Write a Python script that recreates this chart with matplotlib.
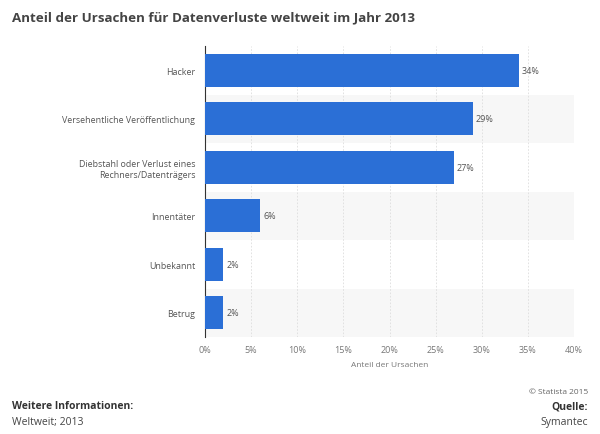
import matplotlib.pyplot as plt
from matplotlib.ticker import FuncFormatter

categories = ["Hacker", "Versehentliche Veröffentlichung",
              "Diebstahl oder Verlust eines\nRechners/Datenträgers",
              "Innentäter", "Unbekannt", "Betrug"]
values = [34, 29, 27, 6, 2, 2]
xticks = [0, 5, 10, 15, 20, 25, 30, 35, 40]

plt.rcParams['font.family'] = ['Open Sans', 'DejaVu Sans']

fig = plt.figure(figsize=(6, 4.35), dpi=100)
ax = fig.add_axes([205 / 600, 1 - 338 / 435, 369 / 600, 291 / 435])

n = len(categories)
ypos = list(range(n))

# alternating row bands
for i in ypos:
    if i % 2 == 1:
        ax.axhspan(i - 0.5, i + 0.5, color="#f7f7f7", zorder=0, lw=0)

ax.barh(ypos, values, height=0.68, color="#2b6fd6", zorder=3)
for y, v in zip(ypos, values):
    ax.text(v + 0.3, y, f"{v}%", va="center", ha="left", fontsize=6.5,
            color="#555555", zorder=4)

ax.set_ylim(n - 0.5, -0.5)
ax.set_xlim(0, 40)
ax.set_yticks(ypos)
ax.set_yticklabels(categories, fontsize=6.4, color="#555555", linespacing=1.3)
ax.set_xticks(xticks)
ax.xaxis.set_major_formatter(FuncFormatter(lambda x, _: f"{x:.0f}%"))
ax.tick_params(axis="x", labelsize=6.5, labelcolor="#777777", length=0, pad=6)
ax.tick_params(axis="y", length=0, pad=7)
ax.grid(axis="x", color="#dddddd", linestyle=(0, (2, 2)), linewidth=0.6, zorder=1)
ax.set_axisbelow(True)
for s in ["top", "right", "bottom"]:
    ax.spines[s].set_visible(False)
ax.spines["left"].set_color("#333333")
ax.spines["left"].set_linewidth(0.8)
ax.set_xlabel("Anteil der Ursachen", fontsize=6, color="#777777", labelpad=5)

fig.text(12 / 600, 1 - 18 / 435, "Anteil der Ursachen für Datenverluste weltweit im Jahr 2013",
         fontsize=9.6, fontweight="bold", color="#444444", va="center", ha="left")

fig.text(588 / 600, 1 - 393 / 435, "© Statista 2015", fontsize=6, color="#666666",
         ha="right", va="center")
fig.text(12 / 600, 1 - 407 / 435, "Weitere Informationen:", fontsize=7.5,
         fontweight="bold", color="#333333", ha="left", va="center")
fig.text(12 / 600, 1 - 423 / 435, "Weltweit; 2013", fontsize=7.5, color="#444444",
         ha="left", va="center")
fig.text(588 / 600, 1 - 407 / 435, "Quelle:", fontsize=7.5, fontweight="bold",
         color="#333333", ha="right", va="center")
fig.text(588 / 600, 1 - 423 / 435, "Symantec", fontsize=7.5, color="#444444",
         ha="right", va="center")

fig.savefig("out.png", dpi=100, facecolor="white")
